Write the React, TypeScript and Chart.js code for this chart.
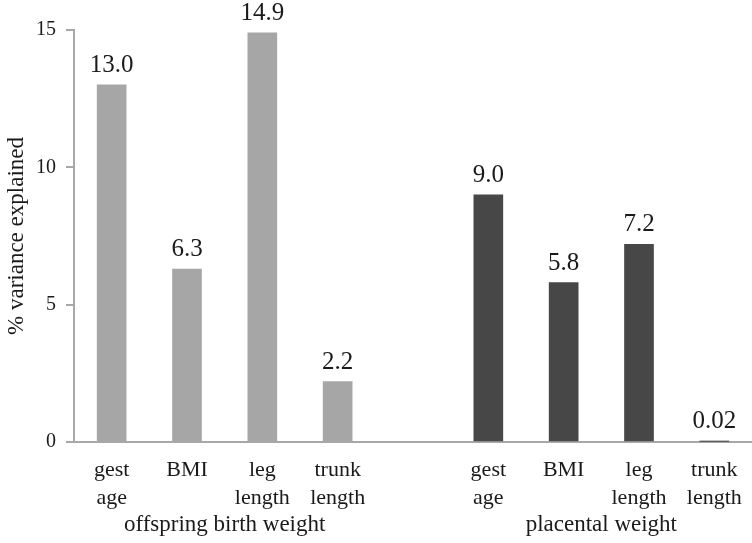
import React, { useEffect, useRef } from "react";
import { Chart, registerables } from "chart.js";

Chart.register(...registerables);

const categories: (string | string[])[] = [
  ["gest", "age"],
  "BMI",
  ["leg", "length"],
  ["trunk", "length"],
  "",
  ["gest", "age"],
  "BMI",
  ["leg", "length"],
  ["trunk", "length"],
];
const values: (number | null)[] = [13.0, 6.3, 14.9, 2.2, null, 9.0, 5.8, 7.2, 0.02];
const valueLabels: string[] = ["13.0", "6.3", "14.9", "2.2", "", "9.0", "5.8", "7.2", "0.02"];
const barColors: string[] = [
  "#a6a6a6", "#a6a6a6", "#a6a6a6", "#a6a6a6", "#a6a6a6",
  "#474747", "#474747", "#474747", "#474747",
];
const groups = [
  { label: "offspring birth weight", from: 0, to: 3 },
  { label: "placental weight", from: 5, to: 8 },
];
const yTicks = [0, 5, 10, 15];
const yTitle = "% variance explained";

const FONT = "'Liberation Serif', 'Times New Roman', serif";
const AXIS = "#a8a8a8";
const TEXT = "#1a1a1a";

const valueLabelPlugin = {
  id: "valueLabels",
  afterDatasetsDraw(chart: any) {
    const ctx = chart.ctx;
    const meta = chart.getDatasetMeta(0);
    ctx.save();
    ctx.font = `25px ${FONT}`;
    ctx.fillStyle = TEXT;
    ctx.textAlign = "center";
    ctx.textBaseline = "alphabetic";
    meta.data.forEach((bar: any, i: number) => {
      const t = valueLabels[i];
      if (!t || values[i] == null) return;
      ctx.fillText(t, bar.x, bar.y - 13);
    });
    ctx.restore();
  },
};

const groupLabelPlugin = {
  id: "groupLabels",
  afterDraw(chart: any) {
    const ctx = chart.ctx;
    const x = chart.scales.x;
    ctx.save();
    ctx.font = `23px ${FONT}`;
    ctx.fillStyle = TEXT;
    ctx.textAlign = "center";
    ctx.textBaseline = "alphabetic";
    groups.forEach((g) => {
      const cx = (x.getPixelForValue(g.from) + x.getPixelForValue(g.to)) / 2;
      ctx.fillText(g.label, cx, chart.chartArea.bottom + 89);
    });
    ctx.restore();
  },
};

export default function App() {
  const ref = useRef<HTMLCanvasElement | null>(null);
  useEffect(() => {
    if (!ref.current) return;
    const chart = new Chart(ref.current, {
      type: "bar",
      data: {
        labels: categories,
        datasets: [
          {
            data: values,
            backgroundColor: barColors,
            barThickness: 29,
            borderWidth: 0,
          },
        ],
      },
      options: {
        animation: false,
        responsive: false,
        layout: { padding: { top: 30, right: 0, left: 0, bottom: 0 } },
        plugins: {
          legend: { display: false },
          tooltip: { enabled: false },
        },
        scales: {
          x: {
            grid: { display: false, drawTicks: false },
            border: { display: true, color: AXIS, width: 2 },
            ticks: {
              color: TEXT,
              font: { family: FONT, size: 22, lineHeight: 1.27 },
              padding: 14,
              maxRotation: 0,
              autoSkip: false,
            },
            afterFit(scale: any) {
              scale.height = 101;
              scale.paddingLeft = 0;
              scale.paddingRight = 0;
            },
          },
          y: {
            min: 0,
            max: 15,
            afterBuildTicks(scale: any) {
              scale.ticks = yTicks.map((v) => ({ value: v }));
            },
            grid: {
              drawOnChartArea: false,
              drawTicks: true,
              tickLength: 8,
              color: AXIS,
              lineWidth: 2,
            },
            border: { display: true, color: AXIS, width: 2 },
            ticks: {
              color: TEXT,
              font: { family: FONT, size: 20 },
              padding: 10,
            },
            title: {
              display: true,
              text: yTitle,
              color: TEXT,
              font: { family: FONT, size: 23 },
              padding: { top: 3, bottom: 0 },
            },
            afterFit(scale: any) {
              scale.width = 74;
            },
          },
        },
      },
      plugins: [valueLabelPlugin, groupLabelPlugin],
    });
    return () => chart.destroy();
  }, []);
  return (
    <div style={{ position: "fixed", left: 0, top: 0, width: 752, height: 543, background: "#fff" }}>
      <canvas ref={ref} width={752} height={543} style={{ display: "block" }} />
    </div>
  );
}
